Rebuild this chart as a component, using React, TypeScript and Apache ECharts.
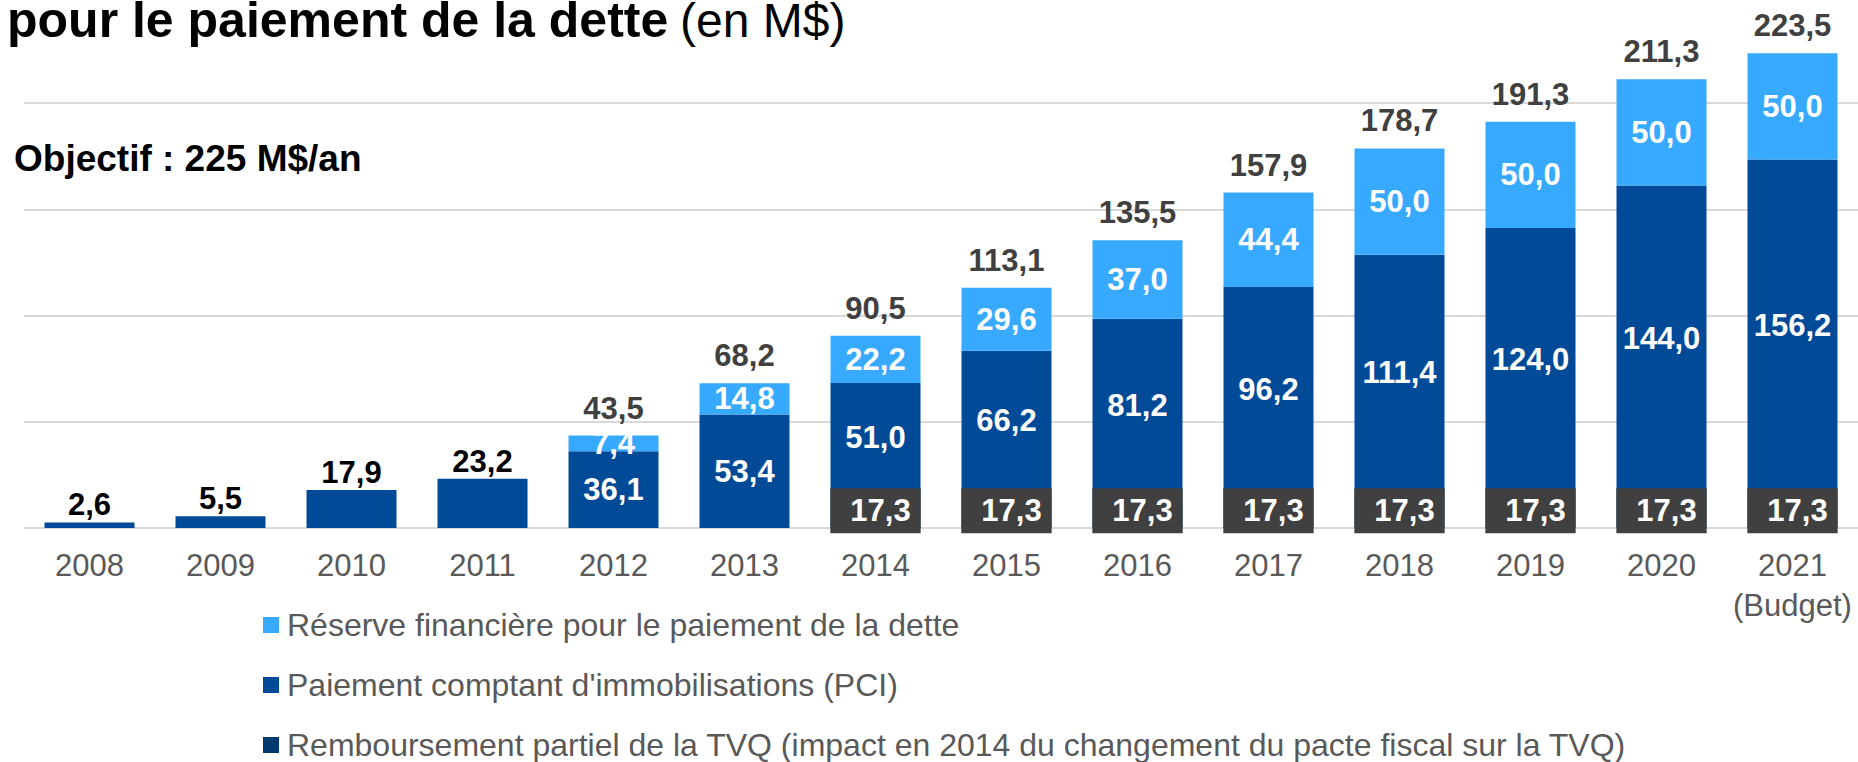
import React, { useEffect, useRef } from "react";
import * as echarts from "echarts";

const categories = ["2008", "2009", "2010", "2011", "2012", "2013", "2014", "2015", "2016", "2017", "2018", "2019", "2020", "2021\n(Budget)"];
const reserveValues = [null, null, null, null, 7.4, 14.8, 22.2, 29.6, 37.0, 44.4, 50.0, 50.0, 50.0, 50.0];
const pciValues = [2.6, 5.5, 17.9, 23.2, 36.1, 53.4, 51.0, 66.2, 81.2, 96.2, 111.4, 124.0, 144.0, 156.2];
const tvqValues = [null, null, null, null, null, null, 17.3, 17.3, 17.3, 17.3, 17.3, 17.3, 17.3, 17.3];
const totalValues = [2.6, 5.5, 17.9, 23.2, 43.5, 68.2, 90.5, 113.1, 135.5, 157.9, 178.7, 191.3, 211.3, 223.5];

const seriesNames = [
  "Réserve financière pour le paiement de la dette",
  "Paiement comptant d'immobilisations (PCI)",
  "Remboursement partiel de la TVQ (impact en 2014 du changement du pacte fiscal sur la TVQ)",
];
const titleBold = "pour le paiement de la dette";
const titleNormal = "(en M$)";
const objectifText = "Objectif : 225 M$/an";

const FONT = '"Liberation Sans", Arial, sans-serif';
const fmt = (v: number) => v.toFixed(1).replace(".", ",");

export default function App() {
  const ref = useRef<HTMLDivElement>(null);
  useEffect(() => {
    document.body.style.margin = "0";
    const chart = echarts.init(ref.current!, null, { renderer: "svg" });
    const onlyPci = (i: number) => reserveValues[i] == null && tvqValues[i] == null;

    const pciData = pciValues.map((v, i) =>
      onlyPci(i)
        ? { value: v, label: { show: true, position: "top", distance: 2, color: "#000000" } }
        : { value: v }
    );
    const totalData = totalValues.map((v, i) => (onlyPci(i) ? null : 0));

    const legendTops = [607, 667, 727];
    const legends = seriesNames.map((name, i) => ({
      data: [name],
      orient: "vertical",
      left: 263,
      top: legendTops[i],
      icon: "rect",
      itemWidth: 16,
      itemHeight: 16,
      itemGap: 0,
      padding: 0,
      textStyle: { fontSize: 32, color: "#595959", fontFamily: FONT, lineHeight: 36, padding: [0, 0, 0, 3] },
      selectedMode: false,
    }));

    chart.setOption({
      animation: false,
      textStyle: { fontFamily: FONT },
      grid: { left: 24, right: 0, top: -3, bottom: 234, outerBoundsMode: "none", containLabel: false },
      legend: legends,
      xAxis: {
        type: "category",
        data: categories,
        axisTick: { show: false },
        axisLine: { show: false },
        axisLabel: { fontSize: 31, color: "#595959", fontFamily: FONT, lineHeight: 40, margin: 17, interval: 0 },
      },
      yAxis: {
        type: "value",
        min: 0,
        max: 250,
        interval: 50,
        axisLabel: { show: false },
        axisLine: { show: false },
        axisTick: { show: false },
        splitLine: { lineStyle: { color: "#D9D9D9", width: 2 } },
      },
      series: [
        {
          name: seriesNames[2],
          type: "bar",
          stack: "total",
          barWidth: 90,
          itemStyle: { color: "#023A6F" },
          data: tvqValues,
          label: {
            show: true,
            position: "inside",
            formatter: (p: any) => fmt(p.value),
            color: "#ffffff",
            fontSize: 31,
            fontWeight: "bold",
            fontFamily: FONT,
            lineHeight: 30,
            backgroundColor: "#404040",
            padding: [7, 10, 8, 20],
            offset: [0, 1],
          },
        },
        {
          name: seriesNames[1],
          type: "bar",
          stack: "total",
          barWidth: 90,
          itemStyle: { color: "#004A98" },
          data: pciData,
          label: {
            show: true,
            position: "inside",
            formatter: (p: any) => fmt(p.value),
            color: "#ffffff",
            fontSize: 31,
            fontWeight: "bold",
            fontFamily: FONT,
          },
        },
        {
          name: seriesNames[0],
          type: "bar",
          stack: "total",
          barWidth: 90,
          itemStyle: { color: "#37AAFF" },
          data: reserveValues,
          label: {
            show: true,
            position: "inside",
            formatter: (p: any) => fmt(p.value),
            color: "#ffffff",
            fontSize: 31,
            fontWeight: "bold",
            fontFamily: FONT,
          },
        },
        {
          name: "Total",
          type: "bar",
          stack: "total",
          barWidth: 90,
          itemStyle: { color: "transparent" },
          data: totalData,
          label: {
            show: true,
            position: "top",
            distance: 12,
            formatter: (p: any) => fmt(totalValues[p.dataIndex]),
            color: "#404040",
            fontSize: 31,
            fontWeight: "bold",
            fontFamily: FONT,
          },
        },
      ],
      graphic: [
        {
          type: "text",
          left: 7,
          top: -5,
          style: { text: titleBold, font: `bold 50px ${FONT}`, fill: "#000000" },
        },
        {
          type: "text",
          left: 680,
          top: -4,
          style: { text: titleNormal, font: `48px ${FONT}`, fill: "#000000" },
        },
        {
          type: "text",
          left: 14,
          top: 140,
          style: { text: objectifText, font: `bold 37px ${FONT}`, fill: "#000000" },
        },
      ],
    });
    return () => chart.dispose();
  }, []);
  return <div ref={ref} style={{ position: "absolute", left: 0, top: 0, width: 1858, height: 762 }} />;
}
